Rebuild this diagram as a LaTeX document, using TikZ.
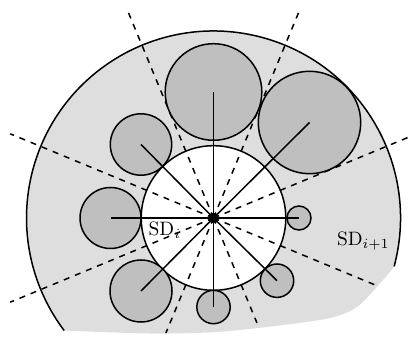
\documentclass[tikz,border=0pt]{standalone}
\usetikzlibrary{calc}
\definecolor{regionfill}{gray}{0.87}
\definecolor{ballfill}{gray}{0.75}
\tikzset{
  outline/.style={line width=0.75pt},
  ball/.style={circle, draw, line width=0.75pt, fill=ballfill, inner sep=0pt},
  ray/.style={line width=0.75pt},
  sector/.style={dashed, line width=0.75pt},
  lbl/.style={font=\fontsize{9.7}{11}\selectfont, inner sep=0pt, anchor=base west}
}
\begin{document}
\begin{tikzpicture}[x=0.5pt,y=0.5pt]
\useasboundingbox (0,0) rectangle (412,337);
\coordinate (C) at (213.5,119);
% outer region
\fill[regionfill] (C) ++(-15:187) arc[start angle=-15,end angle=217,radius=187]
  -- plot[smooth] coordinates {(64.2,6.5) (150,3.5) (217,5) (283,12) (330,19) (357,30) (383,57) (394.1,70.6)} -- cycle;
\draw[outline] (C) ++(-15:187) arc[start angle=-15,end angle=217,radius=187];
% inner disc
\draw[outline, fill=white] (C) circle[radius=72.3];
% dashed sector lines
\foreach \i/\a/\l in {1/22.5/213, 2/67.5/222, 3/112.5/222, 4/157.5/220, 5/202.5/220, 6/247.5/124.5, 7/292.5/113.6, 8/337.5/177}{
  \path (C) ++(\a:\l) coordinate (d\i);
  \draw[sector] (C) -- (d\i);
}
% balls
\node[ball, minimum size=12pt]   (b1) at (299,119) {};
\node[ball, minimum size=51.2pt] (b2) at (309.5,214.5) {};
\node[ball, minimum size=48.3pt] (b3) at (213.5,245) {};
\node[ball, minimum size=30.7pt] (b4) at (141,192.5) {};
\node[ball, minimum size=30.5pt] (b5) at (110.5,119) {};
\node[ball, minimum size=31pt]   (b6) at (141,46) {};
\node[ball, minimum size=16.7pt] (b7) at (213.5,30) {};
\node[ball, minimum size=16.7pt] (b8) at (277,56.3) {};
% rays
\foreach \i in {1,...,8}{
  \draw[ray] (C) -- (b\i.center);
}
\node[circle, fill=black, inner sep=0pt, minimum size=5.4pt] (ctr) at (C) {};
% labels
\node[lbl] (sdi) at (148.3,101.3) {SD$_i$};
\node[lbl] (sdn) at (336.7,91.3) {SD$_{i+1}$};
\end{tikzpicture}
\end{document}
